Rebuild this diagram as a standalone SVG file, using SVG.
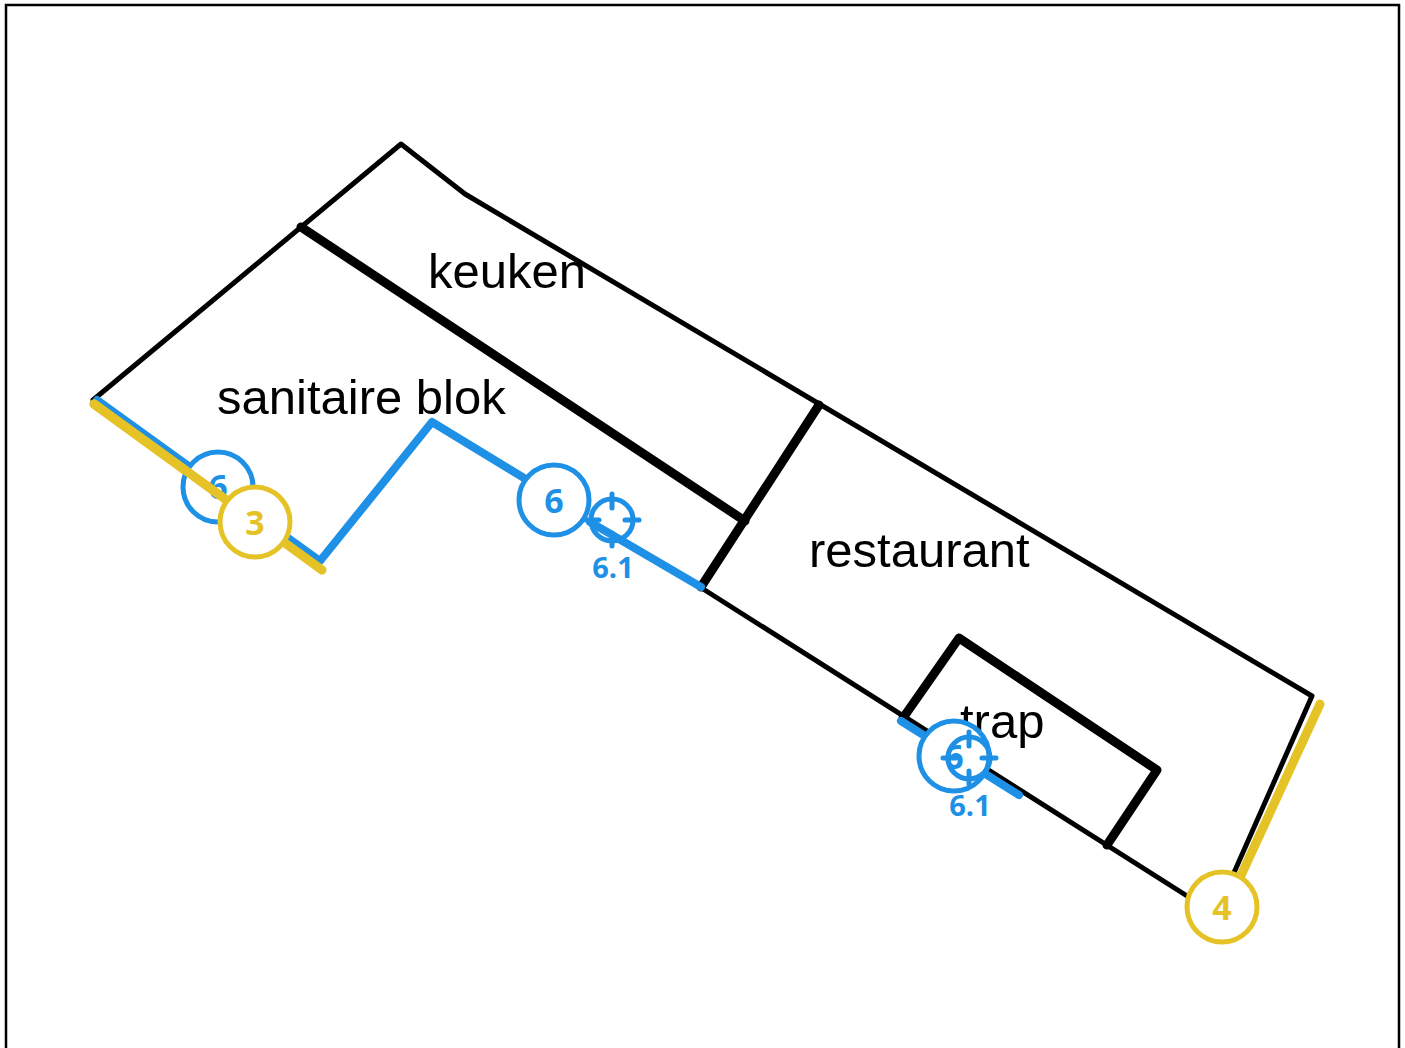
<svg xmlns="http://www.w3.org/2000/svg" width="1405" height="1048" viewBox="0 0 1405 1048">
<style>
.wall{fill:none;stroke:#000;stroke-linecap:round;stroke-linejoin:round}
.thin{stroke-width:5}
.thick{stroke-width:9}
.blue{fill:none;stroke:#1e90e6;stroke-width:8;stroke-linecap:round;stroke-linejoin:round}
.yellow{fill:none;stroke:#e5c327;stroke-width:9;stroke-linecap:round;stroke-linejoin:round}
.label{font-family:"Liberation Sans",Arial,sans-serif;font-size:49px;fill:#000}
.num{font-family:"Open Sans",sans-serif;font-weight:700;font-size:34px;text-anchor:middle}
.sub{font-family:"Open Sans",sans-serif;font-weight:700;font-size:29px;text-anchor:middle;fill:#1e90e6}
.cb{fill:#fff;stroke:#1e90e6;stroke-width:5}
.cy{fill:#fff;stroke:#e5c327;stroke-width:5}
.tb{fill:#1e90e6}
.ty{fill:#e5c327}
.ring{fill:none;stroke:#1e90e6;stroke-width:5}
.tick{fill:none;stroke:#1e90e6;stroke-width:5;stroke-linecap:round}
</style>
<rect width="1405" height="1048" fill="#fff"/>
<rect x="6" y="5" width="1393" height="1060" fill="none" stroke="#000" stroke-width="2.5"/>
<g id="connectors">
<path class="wall thin" d="M93 400L401 144L465 194L1312 696L1225 893"/>
<path class="wall thin" d="M700 587L1225 920"/>
<path class="wall thick" d="M301 227L745 521"/>
<path class="wall thick" d="M819 405L701 587"/>
<path class="wall thick" d="M903 718L959 638L1157 770L1107 845"/>
<path class="blue" d="M97 400L320 561L432 422L524 478"/>
<path class="blue" d="M590 522L701 587"/>
<path class="blue" d="M901 721L1019 795"/>
<path class="yellow" d="M94 404L322 570"/>
<path class="yellow" d="M1320 704L1232 895"/>
</g>
<g id="keuken"><text class="label" x="428" y="288">keuken</text></g>
<g id="sanitaire-blok"><text class="label" x="217" y="414">sanitaire blok</text></g>
<g id="restaurant"><text class="label" x="809" y="567">restaurant</text></g>
<g id="trap"><text class="label" x="960" y="738">trap</text></g>
<g id="marker-6-a"><circle class="cb" cx="218" cy="487" r="35"/><text class="num tb" x="218" y="499">6</text></g>
<path class="yellow" d="M94 404L225 499"/>
<g id="marker-3"><circle class="cy" cx="255" cy="522" r="35"/><text class="num ty" x="255" y="535">3</text></g>
<g id="marker-6-b"><circle class="cb" cx="554" cy="500" r="35"/><text class="num tb" x="554" y="513">6</text></g>
<g id="target-a"><circle class="ring" cx="612" cy="520" r="21"/><path class="tick" d="M612 494V508M612 533V546M586 520H599M625 520H639"/><text class="sub" x="613" y="578">6.1</text></g>
<g id="marker-6-c"><circle class="cb" cx="954" cy="756" r="35"/><text class="num tb" x="954" y="769">6</text></g>
<g id="target-b"><circle class="ring" cx="969" cy="758" r="21"/><path class="tick" d="M969 732V746M969 771V784M943 758H956M982 758H996"/><text class="sub" x="970" y="816">6.1</text></g>
<g id="marker-4"><circle class="cy" cx="1222" cy="907" r="35"/><text class="num ty" x="1222" y="920">4</text></g>
</svg>
